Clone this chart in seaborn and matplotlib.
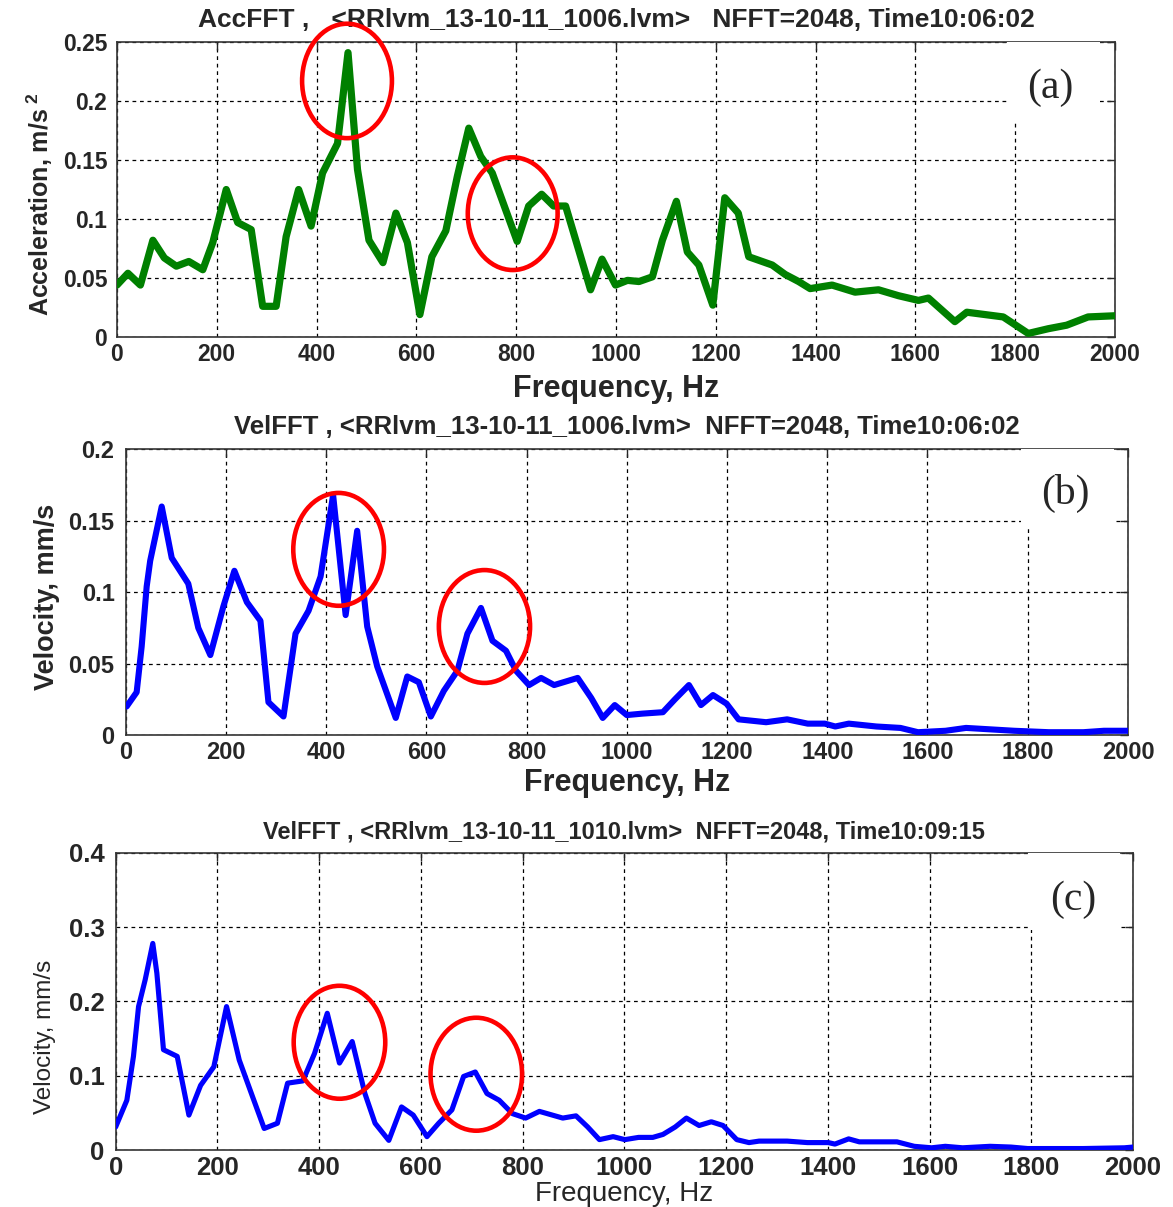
import matplotlib
matplotlib.use("Agg")
import matplotlib.pyplot as plt
import seaborn as sns
import pandas as pd
from matplotlib.patches import Ellipse, Rectangle

# (a) acceleration spectrum, file 1006
acc_freq = [0, 22, 47, 72, 95, 119, 144, 172, 192, 219, 242, 269, 292, 319, 339,
            364, 389, 412, 442, 463, 482, 505, 533, 559, 582, 607, 631, 659, 682, 705,
            729, 752, 802, 825, 851, 875, 899, 949, 972, 999, 1023, 1046, 1073, 1093, 1121,
            1143, 1166, 1194, 1218, 1245, 1266, 1313, 1339, 1366, 1389, 1433, 1479, 1526, 1566, 1606,
            1626, 1679, 1703, 1776, 1826, 1866, 1903, 1946, 2000]
acc_val = [0.044, 0.054, 0.044, 0.082, 0.067, 0.060, 0.064, 0.057, 0.080, 0.125,
           0.097, 0.091, 0.026, 0.026, 0.085, 0.125, 0.094, 0.139, 0.164, 0.241,
           0.142, 0.082, 0.063, 0.105, 0.080, 0.019, 0.068, 0.090, 0.136, 0.177,
           0.153, 0.139, 0.081, 0.111, 0.121, 0.111, 0.111, 0.040, 0.066, 0.044,
           0.048, 0.047, 0.051, 0.082, 0.115, 0.072, 0.061, 0.027, 0.118, 0.105,
           0.068, 0.061, 0.053, 0.047, 0.041, 0.044, 0.038, 0.040, 0.035, 0.031,
           0.033, 0.013, 0.021, 0.017, 0.003, 0.007, 0.010, 0.017, 0.018]

# (b) velocity spectrum, file 1006
vel1_freq = [2, 22, 32, 42, 49, 72, 92, 125, 145, 169, 195, 217, 242, 269, 285,
             315, 339, 365, 389, 414, 439, 462, 482, 502, 539, 562, 585, 609, 635, 662,
             682, 709, 732, 759, 779, 805, 829, 855, 902, 929, 952, 976, 1000, 1031, 1072,
             1096, 1124, 1148, 1172, 1199, 1223, 1278, 1320, 1361, 1395, 1416, 1443, 1498, 1546, 1581,
             1636, 1677, 1725, 1773, 1842, 1911, 1952, 2000]
vel1_val = [0.020, 0.030, 0.062, 0.104, 0.122, 0.160, 0.124, 0.106, 0.075, 0.056,
            0.090, 0.115, 0.093, 0.080, 0.023, 0.013, 0.071, 0.087, 0.111, 0.168,
            0.084, 0.143, 0.076, 0.048, 0.012, 0.041, 0.037, 0.013, 0.031, 0.045,
            0.071, 0.089, 0.066, 0.059, 0.045, 0.035, 0.040, 0.035, 0.040, 0.026,
            0.012, 0.021, 0.014, 0.015, 0.016, 0.025, 0.035, 0.021, 0.028, 0.022,
            0.011, 0.009, 0.011, 0.008, 0.008, 0.006, 0.008, 0.006, 0.005, 0.002,
            0.003, 0.005, 0.004, 0.003, 0.002, 0.002, 0.003, 0.003]

# (c) velocity spectrum, file 1010
vel2_freq = [0, 22, 35, 45, 58, 73, 81, 94, 121, 144, 167, 193, 218, 243, 269,
             292, 318, 338, 368, 391, 416, 440, 465, 490, 510, 537, 562, 585, 612, 635,
             661, 684, 707, 730, 754, 780, 806, 833, 879, 905, 928, 951, 978, 1001, 1028,
             1056, 1076, 1100, 1122, 1147, 1171, 1194, 1221, 1245, 1265, 1320, 1360, 1401, 1414, 1441,
             1462, 1536, 1570, 1604, 1631, 1665, 1719, 1760, 1793, 1902, 1983, 2000]
vel2_val = [0.031, 0.067, 0.126, 0.193, 0.229, 0.278, 0.238, 0.135, 0.126, 0.047,
            0.087, 0.112, 0.193, 0.121, 0.072, 0.029, 0.036, 0.090, 0.093, 0.130,
            0.184, 0.117, 0.146, 0.076, 0.036, 0.013, 0.058, 0.047, 0.018, 0.036,
            0.054, 0.099, 0.105, 0.076, 0.067, 0.049, 0.043, 0.052, 0.043, 0.046,
            0.031, 0.014, 0.018, 0.014, 0.017, 0.017, 0.021, 0.031, 0.043, 0.033,
            0.038, 0.033, 0.014, 0.010, 0.012, 0.012, 0.010, 0.010, 0.008, 0.015,
            0.011, 0.011, 0.005, 0.003, 0.005, 0.003, 0.005, 0.004, 0.002, 0.002,
            0.003, 0.004]

# highlighted peaks: (centre Hz, centre value, width Hz, height value)
marks_a = [(461, 0.217, 180, 0.097), (793, 0.1045, 180, 0.0955)]
marks_b = [(425, 0.130, 181, 0.079), (716, 0.076, 182, 0.079)]
marks_c = [(440, 0.145, 180, 0.152), (709, 0.102, 180, 0.152)]

titles = ["AccFFT ,   <RRlvm_13-10-11_1006.lvm>   NFFT=2048, Time10:06:02",
          "VelFFT , <RRlvm_13-10-11_1006.lvm>  NFFT=2048, Time10:06:02",
          "VelFFT , <RRlvm_13-10-11_1010.lvm>  NFFT=2048, Time10:09:15"]
ylabels = ["Acceleration, m/s$^{\\ \\mathbf{2}}$", "Velocity, mm/s", "Velocity, mm/s"]
panel_tags = ["(a)", "(b)", "(c)"]
x_ticks = [0, 200, 400, 600, 800, 1000, 1200, 1400, 1600, 1800, 2000]
y_ticks_a = [0, 0.05, 0.1, 0.15, 0.2, 0.25]
y_ticks_b = [0, 0.05, 0.1, 0.15, 0.2]
y_ticks_c = [0, 0.1, 0.2, 0.3, 0.4]

sns.set_style("white")
plt.rcParams['font.family'] = ['Liberation Sans', 'DejaVu Sans']
plt.rcParams['mathtext.fontset'] = 'custom'
plt.rcParams['mathtext.rm'] = 'Liberation Sans'
plt.rcParams['mathtext.bf'] = 'Liberation Sans:bold'

fig = plt.figure(figsize=(11.73, 12.07), dpi=100)

panels = [
    dict(pos=[0.0997, 0.7208, 0.8509, 0.2444], x=acc_freq, y=acc_val, color='#008000', lw=5.2,
         yt=y_ticks_a, ylim=0.25, marks=marks_a, title_fs=19, title_pad=11,
         tick_fs=16.5, xlab_fs=22, ylab_fs=18, ylab_w='bold', xlab_w='bold',
         ylab_xy=(-0.062, 0.45), xlab_pad=6, ypad=7,
         box=[0.892, 0.735, 0.093, 0.265], tag=(0.935, 0.844)),
    dict(pos=[0.1071, 0.3910, 0.8545, 0.2367], x=vel1_freq, y=vel1_val, color='#0000FF', lw=4.4,
         yt=y_ticks_b, ylim=0.2, marks=marks_b, title_fs=18.5, title_pad=11,
         tick_fs=17, xlab_fs=22, ylab_fs=19.5, ylab_w='bold', xlab_w='bold',
         ylab_xy=(-0.065, 0.483), xlab_pad=3, ypad=8,
         box=[0.893, 0.725, 0.093, 0.275], tag=(0.938, 0.847)),
    dict(pos=[0.0986, 0.0472, 0.8673, 0.2463], x=vel2_freq, y=vel2_val, color='#0000FF', lw=3.7,
         yt=y_ticks_c, ylim=0.4, marks=marks_c, title_fs=17, title_pad=10,
         tick_fs=18.5, xlab_fs=20, ylab_fs=17.5, ylab_w='normal', xlab_w='normal',
         ylab_xy=(-0.059, 0.38), xlab_pad=1, ypad=8,
         box=[0.897, 0.74, 0.09, 0.26], tag=(0.941, 0.841)),
]

for i, p in enumerate(panels):
    ax = fig.add_axes(p['pos'])
    df = pd.DataFrame({'freq': p['x'], 'val': p['y']})
    sns.lineplot(data=df, x='freq', y='val', ax=ax, color=p['color'], linewidth=p['lw'],
                 zorder=3)
    ax.set_xlim(0, 2000)
    ax.set_ylim(0, p['ylim'])
    ax.set_xticks(x_ticks)
    ax.set_yticks(p['yt'])
    ax.set_xticklabels([str(t) for t in x_ticks], fontweight='bold', fontsize=p['tick_fs'])
    ax.set_yticklabels([('%g' % t) for t in p['yt']], fontweight='bold', fontsize=p['tick_fs'])
    ax.tick_params(direction='in', top=True, right=True, length=6, width=1, pad=4)
    ax.tick_params(axis='y', pad=p['ypad'])
    ax.grid(True, color='black', linestyle=(0, (3, 3)), linewidth=0.9)
    for s in ax.spines.values():
        s.set_color('#333333')
        s.set_linewidth(1.2)
        s.set_visible(True)
    ax.set_title(titles[i], fontweight='bold', fontsize=p['title_fs'], pad=p['title_pad'])
    ax.set_xlabel("Frequency, Hz", fontweight=p['xlab_w'], fontsize=p['xlab_fs'],
                  labelpad=p['xlab_pad'])
    ax.set_ylabel(ylabels[i], fontweight=p['ylab_w'], fontsize=p['ylab_fs'])
    ax.yaxis.set_label_coords(*p['ylab_xy'])

    # white patch behind the panel tag
    bx, by, bw, bh = p['box']
    ax.add_patch(Rectangle((bx, by), bw, bh, transform=ax.transAxes,
                           facecolor='white', edgecolor='none', zorder=4))
    ax.text(p['tag'][0], p['tag'][1], panel_tags[i], transform=ax.transAxes,
            ha='center', va='center', fontfamily=['Liberation Serif'], fontsize=30, zorder=5)

    for cx, cy, w, h in p['marks']:
        ax.add_patch(Ellipse((cx, cy), w, h, fill=False, edgecolor='#FF0000', linewidth=3.3,
                             zorder=6, clip_on=False))

fig.savefig("out.png", dpi=100)
